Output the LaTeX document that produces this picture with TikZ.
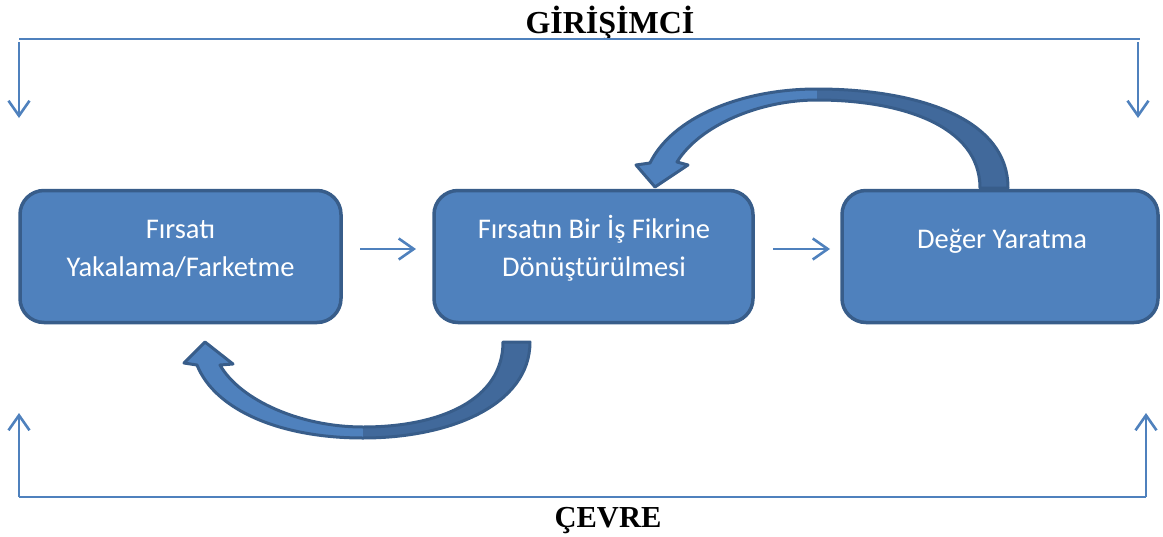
\documentclass[tikz,border=0pt]{standalone}
\usepackage{fontspec}
\setmainfont{Liberation Serif}
\newfontfamily\boxfont{Carlito}
\usetikzlibrary{arrows.meta}
\definecolor{boxfill}{HTML}{4F81BD}
\definecolor{boxedge}{HTML}{385D8A}
\definecolor{darkband}{HTML}{41699B}
\tikzset{
  stage/.style={draw=boxedge, fill=boxfill, line width=3.5pt, rounded corners=24pt,
    minimum width=#1, minimum height=132pt, inner sep=0pt},
  stagetext/.style={text=white, font=\boxfont\fontsize{28.5}{38}\selectfont, align=center},
  frameline/.style={draw=boxfill, line width=2.6pt},
  flow/.style={frameline, -{Straight Barb[length=15pt,width=21pt]}},
  titletext/.style={font=\bfseries\fontsize{32}{38}\selectfont},
  bottomtext/.style={font=\bfseries\fontsize{30.5}{36}\selectfont},
  bendarrow/.style={draw=boxedge, line width=3pt, line join=round}
}
\begin{document}
\begin{tikzpicture}[x=1pt,y=-1pt]
\useasboundingbox (0,0) rectangle (1163,536);

% titles
\node[titletext, anchor=base] (gir) at (610,33) {GİRİŞİMCİ};
\node[bottomtext, anchor=base] (cev) at (608,527) {ÇEVRE};

% frame
\coordinate (tl) at (19,39);
\coordinate (tr) at (1140,39);
\coordinate (tla) at (19,42);
\coordinate (tlb) at (19,118);
\coordinate (tra) at (1138,42);
\coordinate (trb) at (1138,118);
\coordinate (bl) at (19,497);
\coordinate (br) at (1146,497);
\coordinate (bla) at (19,497);
\coordinate (blb) at (19,413);
\coordinate (bra) at (1146,497);
\coordinate (brb) at (1146,413);
\draw[frameline] (tl) -- (tr);
\draw[flow] (tla) -- (tlb);
\draw[flow] (tra) -- (trb);
\draw[frameline] (bl) -- (br);
\draw[flow] (bla) -- (blb);
\draw[flow] (bra) -- (brb);

% boxes
\node[stage=321pt] (b1) at (180.5,256.5) {};
\node[stage=319pt] (b2) at (593.5,256.5) {};
\node[stage=316pt] (b3) at (1000,256.5) {};
\node[stagetext] (t1) at (180.5,249) {Fırsatı\\Yakalama/Farketme};
\node[stagetext] (t2) at (594,248) {Fırsatın Bir İş Fikrine\\Dönüştürülmesi};
\node[stagetext] (t3) at (1002,241) {Değer Yaratma};

% small arrows between boxes
\coordinate (a1s) at (360,249);
\coordinate (a1e) at (416,249);
\coordinate (a2s) at (773,249);
\coordinate (a2e) at (830,249);
\draw[flow] (a1s) -- (a1e);
\draw[flow] (a2s) -- (a2e);

% top curved arrow (from Deger Yaratma back to box 2)
\def\toparrow{(1008,188) .. controls (1008,115) and (910,89) .. (817,89)
  .. controls (740,89) and (672,118) .. (650,163) -- (636,165) -- (655,187) -- (688,165) -- (677,162)
  .. controls (700,125) and (760,100) .. (817,100)
  .. controls (900,100) and (980,125) .. (980,188) -- cycle}
\fill[boxfill] \toparrow;
\begin{scope}
  \clip \toparrow;
  \fill[darkband] (817,80) rectangle (1020,200);
\end{scope}
\draw[bendarrow] \toparrow;

% bottom curved arrow (from box 2 back to box 1)
\def\botarrow{(530,342) .. controls (530,405) and (450,438) .. (363,438)
  .. controls (280,438) and (215,410) .. (197,365) -- (184,363) -- (205,342) -- (233,364) -- (220,365)
  .. controls (240,400) and (300,427) .. (363,427)
  .. controls (440,427) and (503,400) .. (503,342) -- cycle}
\fill[boxfill] \botarrow;
\begin{scope}
  \clip \botarrow;
  \fill[darkband] (363,330) rectangle (540,445);
\end{scope}
\draw[bendarrow] \botarrow;
\end{tikzpicture}
\end{document}
